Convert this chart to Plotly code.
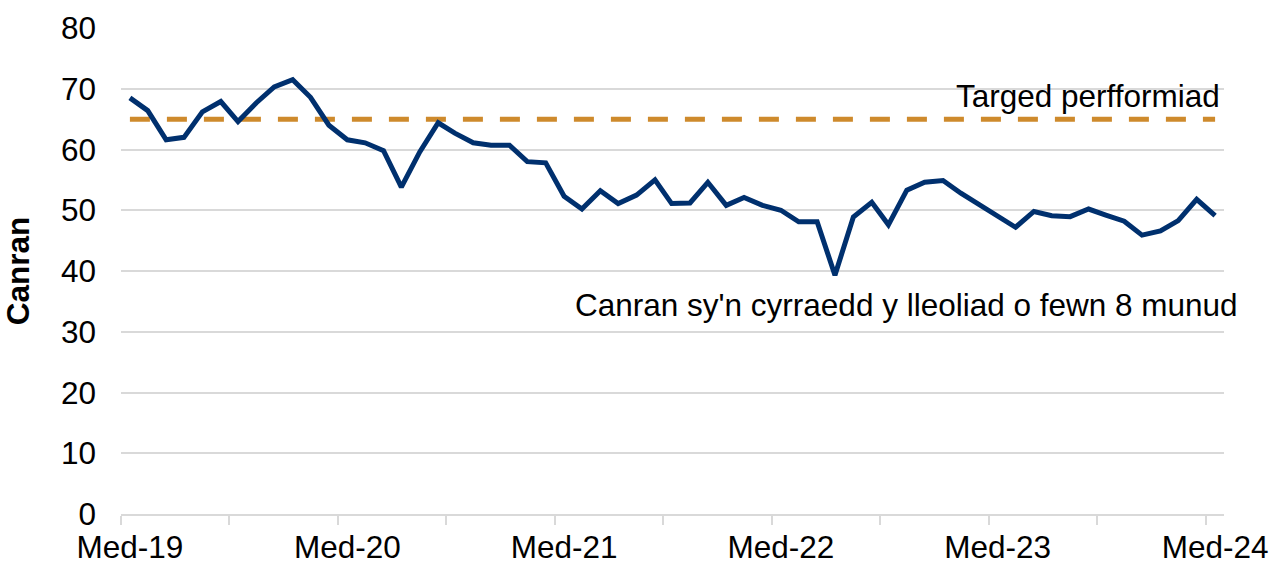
import pandas as pd
import plotly.graph_objects as go

# Monthly data Sept 2019 - Sept 2024
start_month = "2019-09-01"
n_months = 61
pct_within_8 = [
    68.5, 66.4, 61.6, 62.0, 66.2, 67.9, 64.6, 67.7, 70.3, 71.5,
    68.6, 64.0, 61.6, 61.1, 59.8, 53.8, 59.6, 64.4, 62.7, 61.1,
    60.7, 60.7, 58.0, 57.8, 52.3, 50.2, 53.2, 51.1, 52.5, 55.0,
    51.1, 51.2, 54.6, 50.8, 52.1, 50.8, 50.0, 48.1, 48.1, 39.3,
    48.9, 51.3, 47.6, 53.3, 54.6, 54.9, 52.8, 50.9, 49.0, 47.2,
    49.8, 49.1, 48.95, 50.2, 49.2, 48.2, 45.9, 46.6, 48.3, 51.8,
    49.1,
]
target_value = 65
tick_labels = ["Med-19", "Med-20", "Med-21", "Med-22", "Med-23", "Med-24"]
y_ticks = [0, 10, 20, 30, 40, 50, 60, 70, 80]

month_starts = pd.date_range(start_month, periods=n_months, freq="MS")
months = month_starts + pd.Timedelta(days=15)
target = [target_value] * n_months

NAVY = "#00306E"
ORANGE = "#CE8A2C"
GRID = "#D9D9D9"
FONT = "Liberation Sans, Arial, sans-serif"
FS = 31.5

fig = go.Figure()
fig.add_trace(go.Scatter(
    x=months, y=target, mode="lines",
    line=dict(color=ORANGE, width=5, dash="20px,17px"),
    name="Targed perfformiad", hoverinfo="skip",
))
fig.add_trace(go.Scatter(
    x=months, y=pct_within_8, mode="lines",
    line=dict(color=NAVY, width=5),
    name="Canran sy'n cyrraedd y lleoliad o fewn 8 munud",
))

fig.update_layout(
    width=1269, height=562,
    margin=dict(l=121, r=45, t=28, b=48, autoexpand=False),
    paper_bgcolor="white", plot_bgcolor="white",
    showlegend=False,
    font=dict(family=FONT, size=FS, color="black"),
    xaxis=dict(
        type="date", automargin=False,
        range=[month_starts[0], month_starts[-1] + pd.offsets.MonthBegin(1)],
        tickvals=list(months[::12]), ticktext=tick_labels,
        ticks="", showgrid=False,
        showline=True, linecolor=GRID, linewidth=2,
        tickfont=dict(size=FS),
        ticklabelstandoff=4,
        minor=dict(ticks="outside", tick0=start_month, dtick="M6",
                   ticklen=9, tickcolor=GRID, tickwidth=2, showgrid=False),
        zeroline=False,
    ),
    yaxis=dict(
        range=[0, 80], tickvals=y_ticks, automargin=False,
        showgrid=True, gridcolor=GRID, gridwidth=2,
        zeroline=False, showline=False, ticks="",
        ticklabelstandoff=24,
        tickfont=dict(size=FS),
        title=dict(text="<b>Canran</b>", font=dict(size=FS), standoff=22),
    ),
    annotations=[
        dict(text="Targed perfformiad", xref="paper", yref="y",
             x=0.9982, y=68.8, xanchor="right", yanchor="middle",
             showarrow=False, font=dict(size=FS)),
        dict(text="Canran sy'n cyrraedd y lleoliad o fewn 8 munud",
             xref="paper", yref="y", x=1.0145, y=34.4,
             xanchor="right", yanchor="middle",
             showarrow=False, font=dict(size=FS)),
    ],
)

fig.write_html(
    "out.html",
    config={"displayModeBar": False},
    post_script="document.body.style.margin='0px';document.body.style.overflow='hidden';",
)
